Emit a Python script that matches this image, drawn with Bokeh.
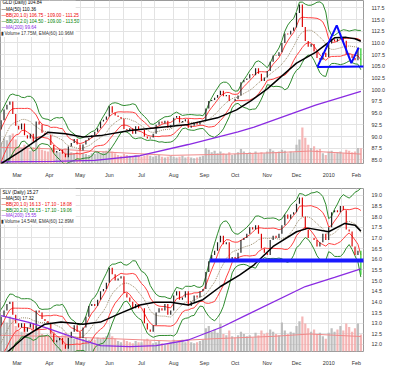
import numpy as np
from bokeh.plotting import figure
from bokeh.layouts import column
from bokeh.models import Range1d, FixedTicker, NumeralTickFormatter, Label, ColumnDataSource
from bokeh.core.properties import value
from bokeh.embed import file_html
from bokeh.resources import INLINE

# trading-day index (Feb 6 2009 = 0), every second session
day = list(range(0, 251, 2))

gld_close = [89.9, 91.5, 93.5, 95.8, 96.8, 97.5, 94.8, 92.3,
             91.5, 92.8, 90.3, 89.6, 90.6, 88.9, 93.2, 92.6, 90.8, 90.5, 90.4,
             88.2, 86.6, 86.9, 87.2, 86.3, 85.6, 87.9, 88.6, 89.5, 88.3,
             87.0, 88.3, 89.2, 89.7, 90.3, 91.0, 91.8, 93.2, 93.6, 94.3,
             96.5, 95.1, 94.5, 94.2, 93.8, 91.6, 91.4, 91.8, 90.6, 92.2, 91.5,
             91.4, 90.0, 89.6, 89.8, 90.6, 92.5, 93.2, 92.8, 93.4, 91.9, 92.4,
             94.0, 94.4, 93.0, 93.3, 93.7, 91.9, 92.3, 92.9, 92.6, 93.3, 93.4,
             96.0, 97.6, 97.8, 98.3, 98.9, 99.8, 98.6, 98.9, 97.6, 97.6,
             98.0, 98.8, 101.6, 102.1, 102.4, 103.3, 103.1, 104.6, 103.4, 101.9, 102.6,
             104.0, 106.0, 107.3, 107.2, 108.0, 110.0, 112.0, 111.8, 112.6, 113.3,
             116.4, 118.2, 113.4, 110.4, 109.2, 109.8, 108.2, 106.8, 106.4, 107.9, 107.0,
             109.9, 110.8, 110.3, 110.9, 111.3, 110.5, 107.6, 107.4, 106.8, 106.3, 108.9, 104.84]
gld_pre = [84.0, 82.0, 80.6, 81.0, 83.5, 85.5, 88.0, 88.5, 90.5, 89.0]
gld_vol = [22, 28, 25, 30, 27, 33, 35, 28,
           20, 18, 22, 17, 15, 19, 26, 20, 16, 15, 14,
           17, 19, 14, 13, 16, 18, 15, 13, 12, 14,
           15, 12, 11, 10, 12, 11, 13, 12, 14, 15,
           18, 14, 12, 10, 9, 11, 10, 9, 8, 10, 9,
           8, 9, 10, 9, 8, 9, 10, 8, 7, 8, 9,
           8, 7, 8, 9, 7, 8, 7, 6, 7, 8, 9,
           18, 16, 13, 15, 12, 14, 12, 11, 13, 10,
           11, 13, 17, 14, 12, 13, 11, 14, 12, 13, 12,
           14, 17, 15, 13, 14, 16, 15, 12, 14, 13,
           22, 28, 42, 30, 22, 18, 20, 16, 17, 12, 10,
           14, 15, 12, 13, 14, 12, 16, 15, 13, 14, 18, 17.75]
gld_ma50_day = [4, 18, 36, 48, 60, 72, 92, 132, 152, 165, 175, 186, 206, 219, 232, 240, 246, 250]
gld_ma50 = [84.2, 87.0, 90.9, 90.6, 89.9, 90.2, 91.3, 92.6, 94.0, 95.7, 97.7, 100.2, 105.7, 108.0, 111.1, 111.2, 110.9, 110.36]
gld_ma200_day = [4, 40, 68, 99, 132, 166, 177, 219, 250]
gld_ma200 = [84.6, 84.7, 84.9, 85.9, 88.3, 91.0, 92.0, 96.7, 99.64]
gld_vema_day = [0, 40, 80, 120, 150, 190, 215, 250]
gld_vema = [19, 17, 13, 9.5, 10.5, 12.5, 14.5, 10.96]
gld_tri_day = [220.3, 233.5, 243.5, 248.4]
gld_tri = [104.88, 113.75, 105.7, 109.0]
gld_base_day = [220.3, 256]
gld_base = [104.88, 105.0]

slv_close = [12.6, 12.9, 13.3, 13.6, 13.9, 14.0, 13.4, 13.0,
             12.8, 13.0, 12.6, 12.8, 13.0, 12.7, 13.6, 13.5, 13.2, 13.1, 13.0,
             12.5, 12.1, 12.2, 12.3, 12.0, 11.8, 12.3, 12.6, 12.9, 12.6,
             12.3, 12.8, 13.3, 13.8, 13.9, 13.8, 14.1, 14.5, 14.6, 14.9,
             15.6, 15.3, 15.0, 15.1, 15.2, 14.4, 14.2, 14.0, 13.7, 13.9, 13.7,
             13.7, 13.0, 12.7, 12.6, 12.9, 13.5, 13.7, 13.6, 13.9, 13.4, 13.6,
             14.3, 14.5, 14.1, 14.2, 14.5, 13.8, 14.0, 14.3, 14.2, 14.5, 14.6,
             15.4, 15.9, 16.2, 16.4, 16.8, 17.1, 16.7, 16.8, 16.0, 16.1,
             16.0, 16.3, 16.9, 17.0, 17.2, 17.5, 17.4, 17.6, 17.2, 16.5, 16.3,
             16.2, 16.9, 17.1, 17.0, 17.2, 17.6, 18.1, 17.9, 18.1, 18.2,
             18.6, 18.9, 18.0, 17.4, 17.0, 17.0, 16.9, 16.6, 16.8, 17.2, 16.9,
             17.5, 18.2, 18.3, 18.2, 18.5, 18.3, 17.4, 17.3, 16.6, 16.2, 16.4, 15.27]
slv_pre = [11.0, 10.6, 10.4, 10.6, 11.2, 11.4, 11.8, 12.0, 12.5, 12.4]
slv_vol = [20, 24, 22, 26, 25, 30, 28, 22,
           18, 17, 20, 16, 15, 18, 22, 19, 15, 14, 13,
           15, 17, 13, 12, 14, 16, 13, 12, 11, 12,
           12, 11, 12, 10, 11, 10, 12, 11, 12, 13,
           16, 13, 11, 9, 8, 10, 9, 8, 7, 9, 8,
           8, 10, 11, 9, 7, 8, 9, 7, 6, 7, 8,
           10, 8, 9, 10, 8, 9, 8, 7, 8, 9, 10,
           20, 22, 17, 19, 16, 24, 15, 14, 18, 13,
           12, 14, 17, 15, 13, 14, 12, 16, 14, 18, 15,
           16, 19, 17, 15, 14, 25, 18, 15, 17, 16,
           22, 26, 30, 24, 20, 17, 19, 15, 16, 13, 11,
           16, 20, 17, 19, 22, 18, 24, 21, 17, 20, 24, 14.54]
slv_ma50_day = [6, 20, 34, 45, 60, 72, 85, 99, 109, 120, 132, 142, 154, 167, 177, 190, 206, 214, 228, 239, 246, 250]
slv_ma50 = [11.5, 12.35, 12.95, 13.05, 12.95, 13.05, 13.45, 13.85, 13.98, 13.98, 13.85, 14.1, 14.72, 15.25, 15.74, 16.6, 17.29, 17.46, 17.29, 17.68, 17.6, 17.32]
slv_ma200_day = [4, 23, 36, 55, 72, 92, 110, 132, 155, 172, 212, 232, 250]
slv_ma200 = [13.35, 13.04, 12.75, 12.3, 11.95, 11.9, 11.95, 12.21, 12.82, 13.39, 14.72, 15.15, 15.55]
slv_vema_day = [0, 40, 80, 120, 150, 190, 215, 250]
slv_vema = [14, 13, 11, 9, 11, 13, 15, 12.89]
slv_line_day = [146.7, 256]
slv_line = [15.94, 15.94]

month_ticks = [15, 37, 58, 78, 100, 122, 143, 164, 186, 206, 228, 247]
month_labels = ["Mar", "Apr", "May", "Jun", "Jul", "Aug", "Sep", "Oct", "Nov", "Dec", "2010", "Feb"]
grid_days = [6, 15, 25, 37, 46, 58, 68, 78, 88, 100, 109, 122, 132, 143, 153, 164, 174, 186, 196, 206, 216, 228, 237, 247]

gld_ticks = [85.0, 87.5, 90.0, 92.5, 95.0, 97.5, 100.0, 102.5, 105.0, 107.5, 110.0, 112.5, 115.0, 117.5]
slv_ticks = [12.0, 12.5, 13.0, 13.5, 14.0, 14.5, 15.0, 15.5, 16.0, 16.5, 17.0, 17.5, 18.0, 18.5, 19.0]

gld_legend = ["GLD (Daily) 104.84", "\u2014MA(50) 110.36", "\u2014BB(20,1.0) 106.75 - 109.00 - 111.25",
              "\u2014BB(20,2.0) 104.50 - 109.00 - 113.50", "\u2014MA(200) 99.64", "\u25aeVolume 17.75M, EMA(60) 10.96M"]
slv_legend = ["SLV (Daily) 15.27", "\u2014MA(50) 17.32", "\u2014BB(20,1.0) 16.13 - 17.10 - 18.08",
              "\u2014BB(20,2.0) 15.15 - 17.10 - 19.06", "\u2014MA(200) 15.55", "\u25aeVolume 14.54M, EMA(60) 12.89M"]
legend_colors = ["#000000", "#000000", "#ee0000", "#008000", "#8a2be2", "#333333"]

FONT = "Liberation Sans"
X0, X1 = 3.6, 251.8


def make_panel(close, pre, vol, ma50_d, ma50_v, ma200_d, ma200_v, vema_d, vema_v,
               ylo, yhi, ppu, yticks, vtop, legend, leg_top, leg_bot, height, mbt, mbb):
    p = figure(width=387, height=height, x_range=Range1d(X0, X1), y_range=Range1d(ylo, yhi),
               y_axis_location="right", output_backend="svg", toolbar_location=None,
               min_border_left=0, min_border_right=0, min_border_top=mbt, min_border_bottom=mbb)
    p.outline_line_color = "#9a9a9a"
    p.background_fill_color = "white"
    p.extra_y_ranges = {"vol": Range1d(0, vtop)}

    p.xgrid.ticker = FixedTicker(ticks=grid_days)
    p.ygrid.ticker = FixedTicker(ticks=yticks)
    p.grid.grid_line_color = "#e3e3e3"

    ya = p.yaxis[0]
    ya.ticker = FixedTicker(ticks=yticks)
    ya.formatter = NumeralTickFormatter(format="0.0")
    xa = p.xaxis[0]
    xa.ticker = FixedTicker(ticks=month_ticks)
    xa.major_label_overrides = {t: l for t, l in zip(month_ticks, month_labels)}
    for ax in (ya, xa):
        ax.axis_line_color = None
        ax.major_tick_line_color = None
        ax.minor_tick_line_color = None
        ax.major_label_text_font = FONT
        ax.major_label_text_font_size = "5.4px"
        ax.major_label_text_color = "#333333"
        ax.major_label_standoff = 2
    for t, l in zip(month_ticks, month_labels):
        if l == "2010":
            p.add_layout(Label(x=t, y=ylo - 5.0 / ppu, text=l, text_align="center", text_baseline="middle",
                               text_font=FONT, text_font_size="5.4px", text_font_style="bold",
                               text_color="#222222"))

    # legend backdrop
    p.quad(left=[X0], right=[55], top=[yhi], bottom=[leg_bot], fill_color="white", line_color=None)

    # volume
    c = np.array(close)
    o = np.concatenate([[pre[-1]], c[:-1]])
    up = c >= o
    vcol = ["#b4b4b4" if u else "#f3a9a9" for u in up]
    p.vbar(x=day, top=vol, bottom=0, width=1.5, y_range_name="vol", fill_color=vcol,
           line_color=None, fill_alpha=0.85)
    p.line(vema_d, vema_v, y_range_name="vol", line_color="#f08a8a", line_width=1)

    # Bollinger bands from the closes (20 sessions = 10 samples)
    full = np.concatenate([pre, c])
    mid = np.array([full[i + 1:i + 11].mean() for i in range(len(c))])
    sd = np.array([full[i + 1:i + 11].std() for i in range(len(c))])
    p.line(day, mid + 2 * sd, line_color="#2e8b2e", line_width=1)
    p.line(day, mid - 2 * sd, line_color="#2e8b2e", line_width=1)
    p.line(day, mid + sd, line_color="#ff4040", line_width=1)
    p.line(day, mid - sd, line_color="#ff4040", line_width=1)
    p.line(day, mid, line_color="#9c8c6c", line_width=1, line_dash="1 1")

    # price bars
    ccol = ["#222222" if u else "#dd0000" for u in up]
    ccol[-1] = "#22cc22"
    p.vbar(x=day, top=np.maximum(o, c), bottom=np.minimum(o, c), width=0.8,
           fill_color=ccol, line_color=None)

    p.line(ma200_d, ma200_v, line_color="#8a2be2", line_width=1.3)
    p.line(ma50_d, ma50_v, line_color="#000000", line_width=1.5)

    ys = [leg_top - i * 6.3 / ppu for i in range(len(legend))]
    src = ColumnDataSource(dict(x=[5.0] + [4.2] * (len(legend) - 1), y=ys, t=legend, c=legend_colors))
    p.text(x="x", y="y", text="t", text_color="c", source=src, text_font=value(FONT),
           text_font_size=value("4.6px"), text_baseline="middle", text_align="left")
    return p


p1 = make_panel(gld_close, gld_pre, gld_vol, gld_ma50_day, gld_ma50, gld_ma200_day, gld_ma200,
                gld_vema_day, gld_vema, 84.24, 119.08, 4.88, gld_ticks, 190, gld_legend,
                118.55, 111.3, 180, 0, 10)
p1.line(gld_tri_day, gld_tri, line_color="#0a0aff", line_width=2)
p1.line(gld_base_day, gld_base, line_color="#0a0aff", line_width=2)

p2 = make_panel(slv_close, slv_pre, slv_vol, slv_ma50_day, slv_ma50, slv_ma200_day, slv_ma200,
                slv_vema_day, slv_vema, 11.67, 19.32, 22.6, slv_ticks, 140, slv_legend,
                19.146, 17.62, 188, 8, 7)
p2.line(slv_line_day, slv_line, line_color="#1a1aff", line_width=4)

layout = column(p1, p2, spacing=0)
open("out.html", "w").write(file_html(layout, INLINE))
